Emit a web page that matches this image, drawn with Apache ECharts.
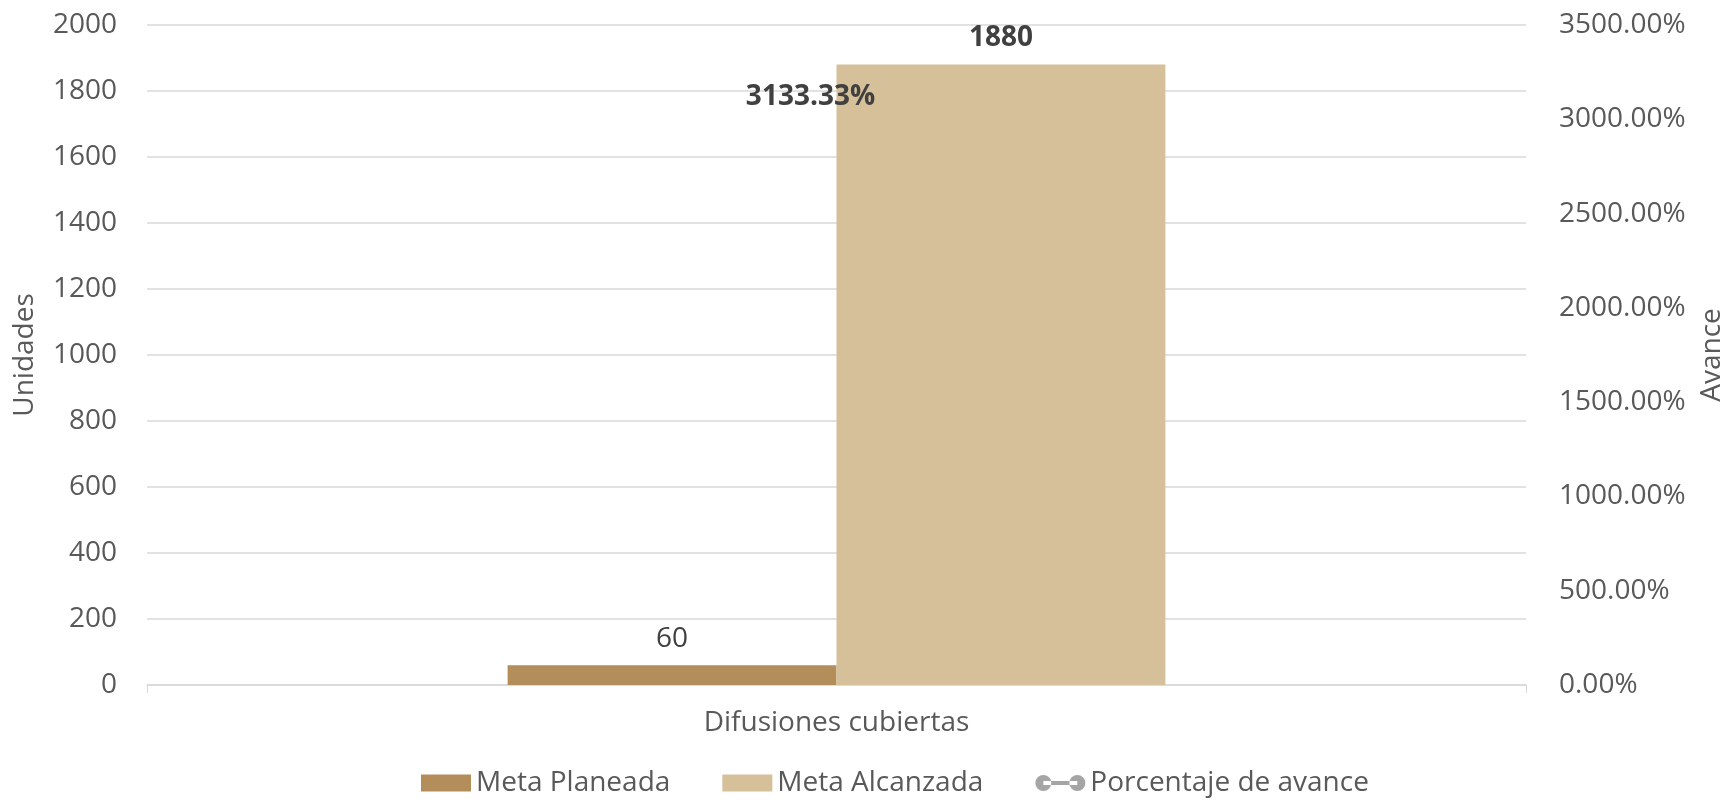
<!DOCTYPE html>
<html>
<head>
<meta charset="utf-8">
<script src="https://cdn.jsdelivr.net/npm/echarts@6/dist/echarts.min.js"></script>
<style>
  html, body { margin: 0; padding: 0; background: #fff; }
  #chart { width: 1734px; height: 802px; }
</style>
</head>
<body>
<div id="chart"></div>
<script>
// datos
const categorias = ['Difusiones cubiertas']
const metaPlaneada = [60]
const metaAlcanzada = [1880]
const porcentajeAvance = [3133.33]

const lineIcon = 'path://M0,8.5a8,8 0 1,0 16,0a8,8 0 1,0 -16,0Z M34,8.5a8,8 0 1,0 16,0a8,8 0 1,0 -16,0Z M8,6.5L42,6.5L42,10.5L8,10.5Z'

const textColor = '#595959'
const font = '"Open Sans", sans-serif'
const fs = 28

const myChart = echarts.init(document.getElementById('chart'))

const option = {
    animation: false,
    textStyle: { fontFamily: font },
    grid: {
        top: 25,
        bottom: 117,
        left: 147,
        right: 204
    },
    legend: {
        bottom: 0,
        left: 416,
        itemWidth: 50,
        itemHeight: 17,
        itemGap: 52,
        textStyle: { color: textColor, fontSize: fs, padding: [0, 0, 0, 0] },
        data: [
            { name: 'Meta Planeada', icon: 'rect' },
            { name: 'Meta Alcanzada', icon: 'rect' },
            { name: 'Porcentaje de avance', icon: lineIcon, itemStyle: { color: '#A5A5A5' } }
        ]
    },
    xAxis: {
        type: 'category',
        data: categorias,
        axisLine: { lineStyle: { color: '#D9D9D9', width: 1.5 } },
        axisTick: { show: true, length: 8, lineStyle: { color: '#D9D9D9' } },
        axisLabel: { color: textColor, fontSize: fs, margin: 24 }
    },
    yAxis: [
        {
            type: 'value',
            name: 'Unidades',
            nameLocation: 'middle',
            nameRotate: 90,
            nameGap: 108,
            nameTextStyle: { color: textColor, fontSize: fs },
            min: 0,
            max: 2000,
            interval: 200,
            axisLine: { show: false },
            axisTick: { show: false },
            axisLabel: { color: textColor, fontSize: fs, margin: 30, formatter: v => String(v) },
            splitLine: { lineStyle: { color: '#D9D9D9', width: 1.5 } }
        },
        {
            type: 'value',
            name: 'Avance',
            nameLocation: 'middle',
            nameRotate: 90,
            nameGap: 172,
            nameTextStyle: { color: textColor, fontSize: fs },
            min: 0,
            max: 3500,
            interval: 500,
            axisLine: { show: false },
            axisTick: { show: false },
            axisLabel: {
                color: textColor,
                fontSize: fs,
                margin: 33,
                formatter: v => v.toFixed(2) + '%'
            },
            splitLine: { show: false }
        }
    ],
    series: [
        {
            name: 'Meta Planeada',
            type: 'bar',
            data: metaPlaneada,
            barGap: '0%',
            barCategoryGap: '52.3%',
            itemStyle: { color: '#B38D5A' },
            label: {
                show: true,
                position: 'top',
                distance: 12,
                color: '#404040',
                fontSize: fs
            }
        },
        {
            name: 'Meta Alcanzada',
            type: 'bar',
            data: metaAlcanzada,
            itemStyle: { color: '#D5C09A' },
            label: {
                show: true,
                position: 'top',
                distance: 13,
                color: '#404040',
                fontSize: fs,
                fontWeight: 'bold'
            }
        },
        {
            name: 'Porcentaje de avance',
            type: 'line',
            yAxisIndex: 1,
            data: porcentajeAvance,
            symbol: 'circle',
            symbolSize: 0.1,
            showSymbol: true,
            z: 5,
            itemStyle: { color: '#A5A5A5' },
            lineStyle: { color: '#A5A5A5', width: 4 },
            label: {
                show: true,
                position: 'inside',
                offset: [-26, 3],
                color: '#404040',
                fontSize: fs,
                fontWeight: 'bold',
                formatter: p => p.value.toFixed(2) + '%'
            }
        }
    ]
}

myChart.setOption(option)
</script>
</body>
</html>
